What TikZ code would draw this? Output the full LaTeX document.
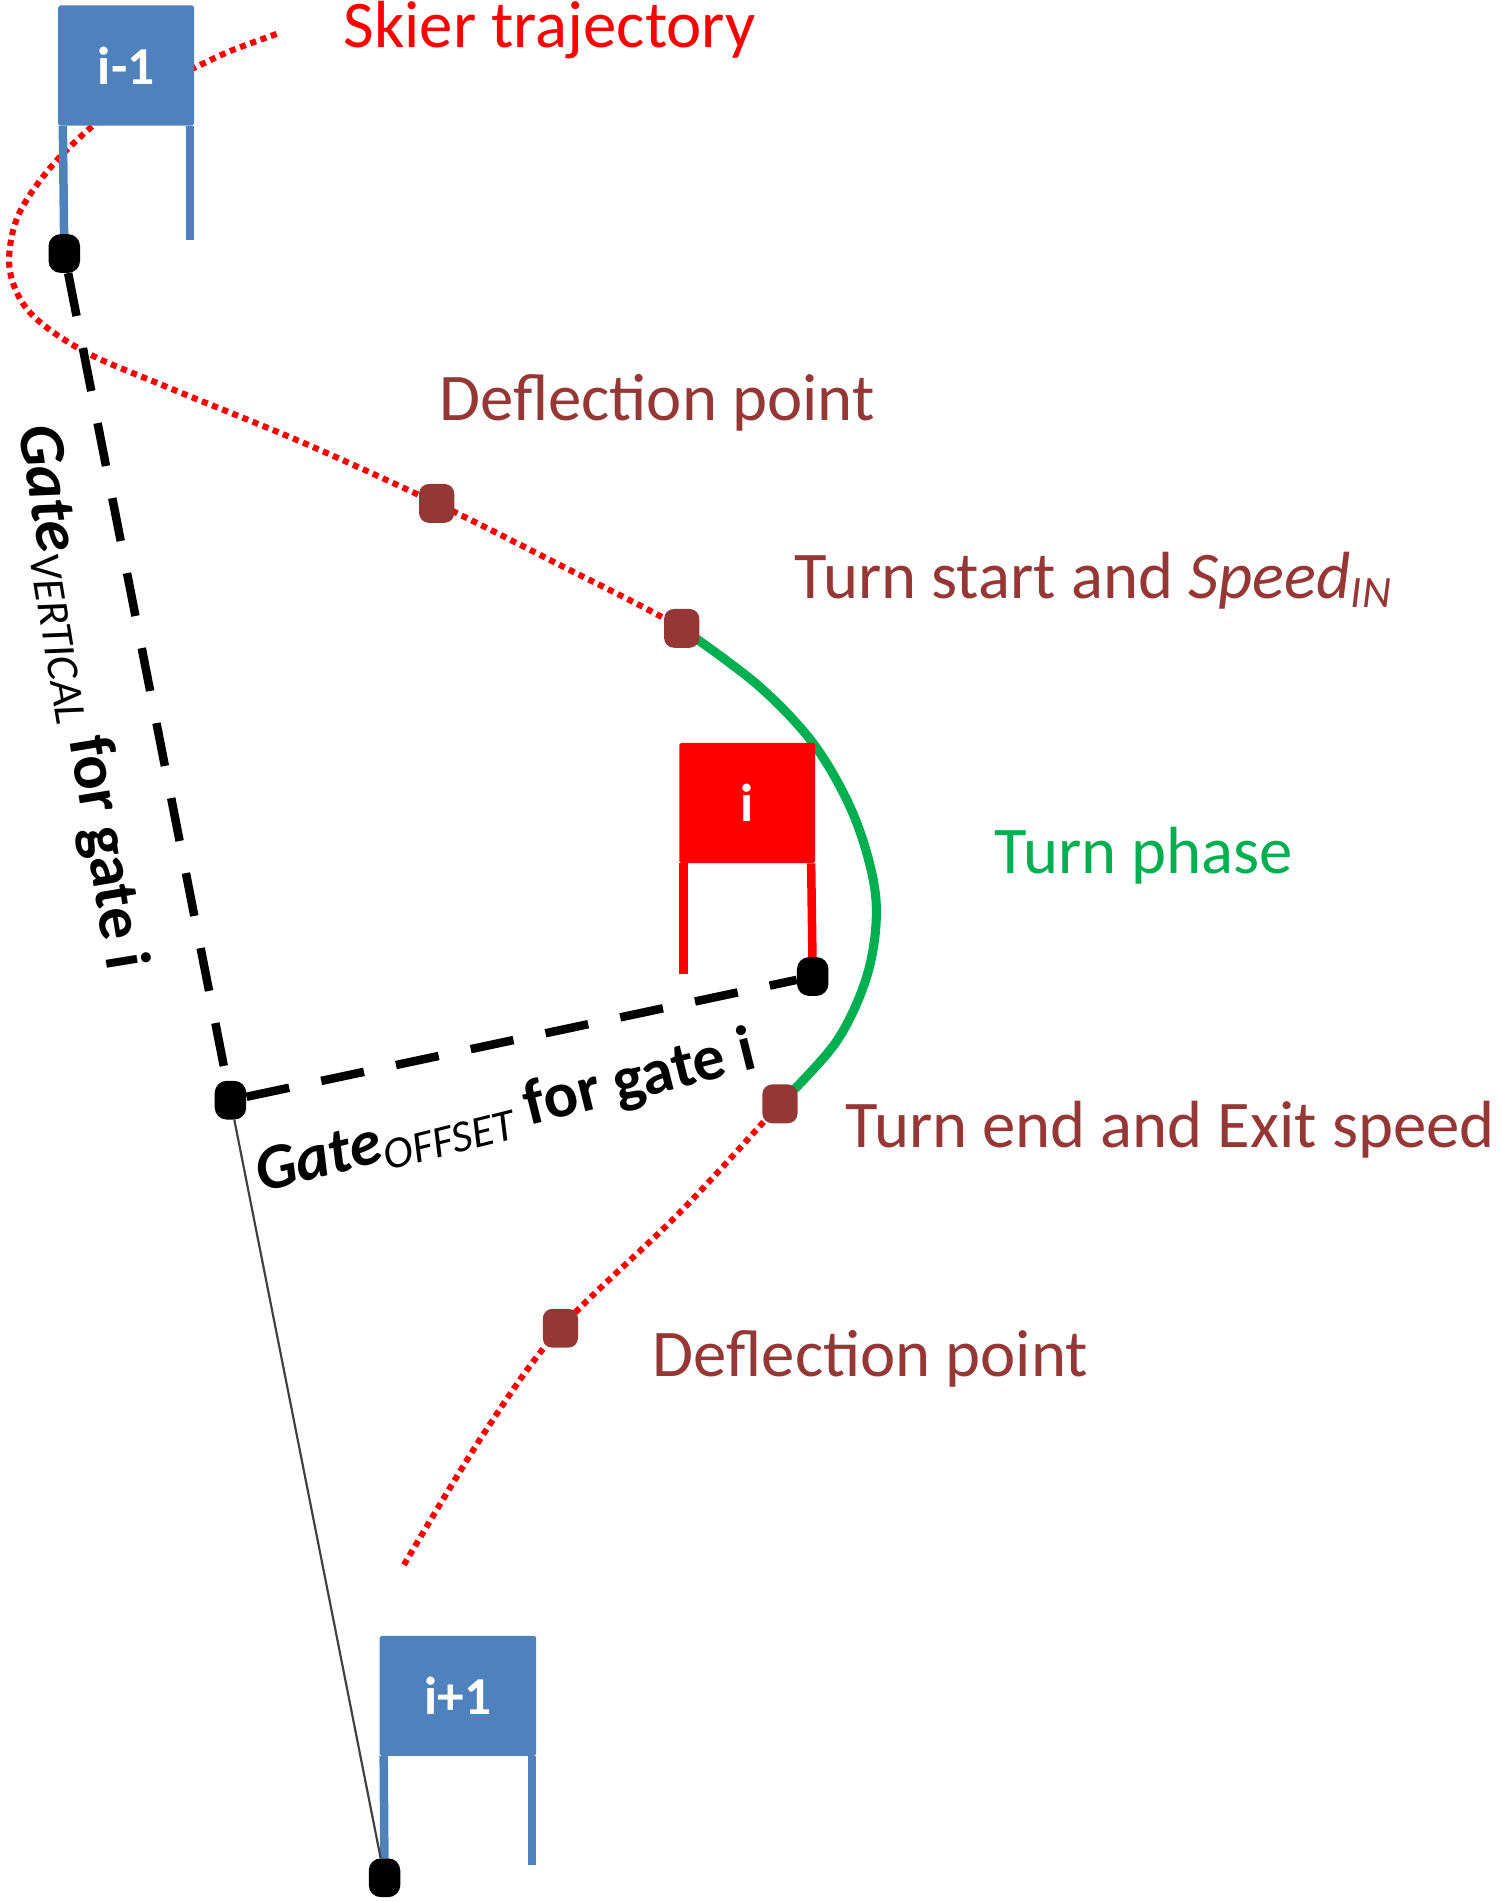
\documentclass[tikz,border=0pt]{standalone}
\usepackage{fontspec}
\setmainfont{Carlito}
\usetikzlibrary{positioning,calc}
\definecolor{gateblue}{RGB}{79,129,189}
\definecolor{gatered}{RGB}{255,0,0}
\definecolor{markbrown}{RGB}{149,55,53}
\definecolor{turngreen}{RGB}{0,176,80}
\newcommand{\subtxt}[1]{\raisebox{-8pt}{\fontsize{37}{37}\selectfont\mdseries\itshape #1}}

\begin{document}
\begin{tikzpicture}[
  x=1pt, y=-1pt,
  flag/.style={rounded corners=1.5pt, inner sep=0pt, minimum height=99pt, text=white, font=\fontsize{44}{44}\selectfont\bfseries},
  pole/.style={line width=7pt},
  marker/.style={fill=markbrown, rounded corners=8pt, minimum width=29pt, minimum height=32pt, inner sep=0pt},
  gatedot/.style={fill=black, rounded corners=10pt, minimum width=26pt, minimum height=32pt, inner sep=0pt},
  traj/.style={draw=red, line width=5pt, dash pattern=on 5pt off 4pt},
  gapline/.style={line width=7pt, dash pattern=on 36pt off 27pt},
  lbl/.style={anchor=base west, inner sep=0pt, font=\fontsize{55}{60}\selectfont},
  rotlbl/.style={inner sep=0pt, font=\fontsize{53}{60}\selectfont\bfseries}
]
\useasboundingbox (0,0) rectangle (1236,1568);

% trajectory points
\coordinate (defla) at (360,415);
\coordinate (tstart) at (562,518);
\coordinate (tend) at (643,910);
\coordinate (deflb) at (462,1095);

\draw[traj] plot[smooth, tension=0.55] coordinates {(228,28) (190,42) (160,56) (110,80) (75,105) (40,140) (14,180) (8,222) (25,258) (70,290) (140,320) (250,365) (defla) (460,465) (tstart) (625,565) (672,615) (705,675) (722,740) (716,800) (690,858) (tend) (560,1000) (deflb) (400,1180) (333,1290)};
\draw[turngreen, line width=7.5pt] plot[smooth, tension=0.55] coordinates {(tstart) (625,565) (672,615) (705,675) (722,740) (716,800) (690,858) (tend)};

% gates
\node[flag, fill=gateblue, minimum width=112pt] (gprev) at (104,54) {i-1};
\node[flag, fill=gatered, minimum width=112pt] (gcur) at (616,662) {i};
\node[flag, fill=gateblue, minimum width=129pt] (gnext) at (377.5,1398) {i+1};

\node[gatedot] (dprev) at (53,209) {};
\node[gatedot] (dcur) at (670,805) {};
\node[gatedot] (dcorner) at (190,907) {};
\node[gatedot] (dnext) at (317,1548) {};

\draw[pole, gateblue] ([xshift=4pt]gprev.south west) -- (dprev);
\draw[pole, gateblue] ([xshift=-3.5pt]gprev.south east) -- ++(0,94);
\draw[pole, gatered] ([xshift=3.5pt]gcur.south west) -- ++(0,91);
\draw[pole, gatered] ([xshift=-3.5pt]gcur.south east) -- (dcur);
\draw[pole, gateblue] ([xshift=3.5pt]gnext.south west) -- (dnext);
\draw[pole, gateblue] ([xshift=-3.5pt]gnext.south east) -- ++(0,90);

\draw[gapline] (dprev) -- (dcorner) -- (dcur);
\draw[line width=1.8pt, black!75] (dcorner) -- (dnext);

\foreach \p in {defla,tstart,tend,deflb}
  \node[marker] (m\p) at (\p) {};

% labels
\node[lbl, text=red] (ltraj) at (283,39) {Skier trajectory};
\node[lbl, text=markbrown] (ldefla) at (362,347) {Deflection point};
\node[lbl, text=markbrown] (lstart) at (655,493) {Turn start and \textit{Speed}\subtxt{IN}};
\node[lbl, text=turngreen] (lphase) at (820,720) {Turn phase};
\node[lbl, text=markbrown] (lend) at (697,946) {Turn end and Exit speed};
\node[lbl, text=markbrown] (ldeflb) at (538,1135) {Deflection point};

\node[rotlbl, rotate=-80.7] (lvert) at (66,575) {\textit{Gate}\subtxt{VERTICAL} for gate i};
\node[rotlbl, rotate=14] (loff) at (417,918) {\textit{Gate}\subtxt{OFFSET} for gate i};
\end{tikzpicture}
\end{document}
